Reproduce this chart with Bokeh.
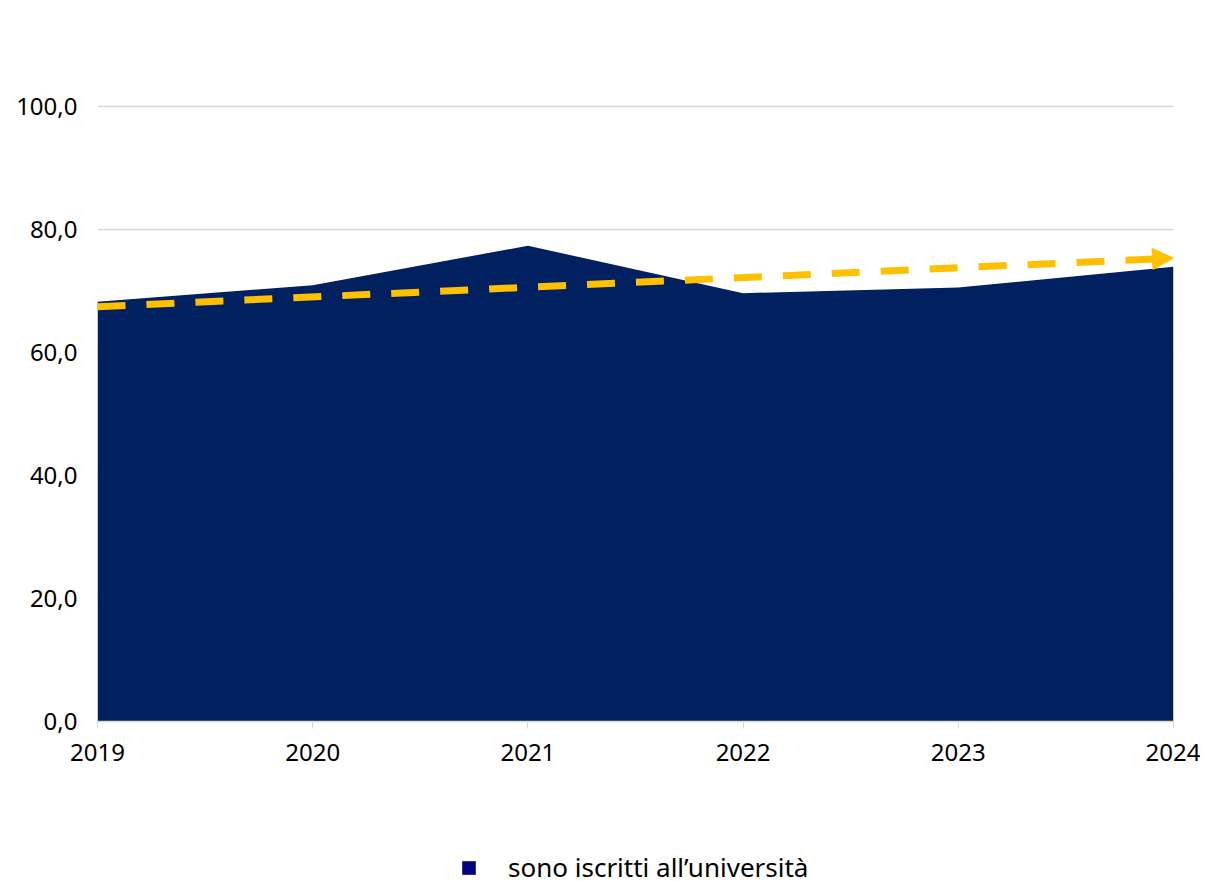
from bokeh.plotting import figure
from bokeh.layouts import column
from bokeh.models import (Range1d, FixedTicker, Arrow, NormalHead, Legend, LegendItem)
from bokeh.embed import file_html
from bokeh.resources import INLINE

years = [2019, 2020, 2021, 2022, 2023, 2024]
iscritti = [68.2, 70.9, 77.3, 69.6, 70.5, 73.9]
trend_years = [2019, 2024]
trend_values = [67.4, 75.3]
y_ticks = [0, 20, 40, 60, 80, 100]
y_tick_labels = ["0,0", "20,0", "40,0", "60,0", "80,0", "100,0"]
series_name = "sono iscritti all\u2019universit\u00e0"

FONT = "Noto Sans"

p = figure(width=1200, height=800, output_backend="svg", toolbar_location=None,
           x_range=Range1d(2019, 2024), y_range=Range1d(0, 110),
           min_border_left=97, min_border_right=27, min_border_top=44,
           min_border_bottom=79)
p.outline_line_color = None
p.background_fill_color = "white"
p.border_fill_color = "white"

area = p.varea(x=years, y1=[0] * len(years), y2=iscritti, fill_color="#002060")

arrow = Arrow(x_start=trend_years[0], y_start=trend_values[0],
              x_end=trend_years[1], y_end=trend_values[1],
              line_color="#FFC000", line_width=7, line_dash="28 21",
              end=NormalHead(size=21, fill_color="#FFC000", line_color="#FFC000", line_width=1))
p.add_layout(arrow)

# axes
p.xaxis.ticker = FixedTicker(ticks=years)
p.xaxis.axis_line_color = "#D9D9D9"
p.xaxis.axis_line_width = 1.5
p.xaxis.major_tick_line_color = "#D9D9D9"
p.xaxis.major_tick_out = 7
p.xaxis.major_tick_in = 0
p.xaxis.minor_tick_line_color = None
p.xaxis.major_label_text_font = FONT
p.xaxis.major_label_text_font_size = "24px"
p.xaxis.major_label_text_color = "black"
p.xaxis.major_label_standoff = 15

p.yaxis.ticker = FixedTicker(ticks=y_ticks)
p.yaxis.major_label_overrides = {t: l for t, l in zip(y_ticks, y_tick_labels)}
p.yaxis.axis_line_color = None
p.yaxis.major_tick_line_color = None
p.yaxis.minor_tick_line_color = None
p.yaxis.major_label_text_font = FONT
p.yaxis.major_label_text_font_size = "24px"
p.yaxis.major_label_text_color = "black"
p.yaxis.major_label_standoff = 14

p.xgrid.grid_line_color = None
p.ygrid.ticker = FixedTicker(ticks=y_ticks[1:])
p.ygrid.grid_line_color = "#D9D9D9"
p.ygrid.grid_line_width = 1.5
p.ygrid.level = "underlay"

# legend strip below the chart
lg = figure(width=1200, height=85, output_backend="svg", toolbar_location=None,
            x_range=Range1d(0, 1), y_range=Range1d(0, 1),
            x_axis_location=None, y_axis_location=None,
            min_border_left=0, min_border_right=0, min_border_top=0, min_border_bottom=0)
lg.grid.grid_line_color = None
lg.outline_line_color = None
lg.border_fill_color = "white"
# zero-size legend key renderer (only its legend swatch is seen)
swatch = lg.quad(left=[0], right=[0], top=[0], bottom=[0],
                 fill_color="#000080", line_color=None)
legend = Legend(items=[LegendItem(label=series_name, renderers=[swatch])],
                location=(363, 0), orientation="horizontal",
                glyph_width=17, glyph_height=17, label_standoff=31,
                label_text_font=FONT, label_text_font_size="26px",
                label_text_color="black", border_line_color=None,
                background_fill_alpha=0, padding=0, margin=0)
lg.add_layout(legend, "center")

layout = column(p, lg, spacing=0)
open("out.html", "w").write(file_html(layout, INLINE))
